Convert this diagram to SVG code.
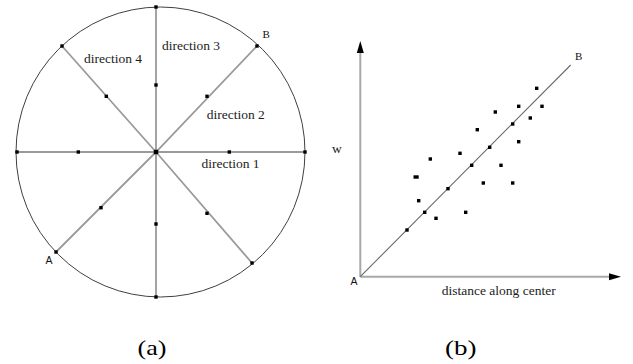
<svg xmlns="http://www.w3.org/2000/svg" width="633" height="364" viewBox="0 0 633 364">
<style>
.spoke{stroke:#9a9a9a;stroke-width:1.8;fill:none}
.rim{stroke:#404040;stroke-width:1;fill:none}
.axis{stroke:#a8a8a8;stroke-width:2;fill:none}
.diag{stroke:#6a6a6a;stroke-width:1.1;fill:none}
.dot{fill:#000}
.lbl{font-family:"Liberation Serif","Times New Roman",serif;font-size:13.5px;fill:#222}
.pt{font-family:"Liberation Serif",serif;font-size:11px;fill:#111}
.pta{font-family:"Liberation Sans",Arial,sans-serif;font-size:10.5px;fill:#111}
.cap{font-family:"Liberation Serif","Times New Roman",serif;font-size:21px;fill:#000}
</style>
<defs>
<rect id="d" x="-1.7" y="-1.7" width="3.4" height="3.4" class="dot"/>
</defs>
<rect width="633" height="364" fill="#fff"/>

<g id="panel-a">
<g id="connectors-a">
<ellipse class="rim" cx="160.5" cy="152" rx="144.5" ry="145"/>
<line class="spoke" x1="156" y1="7" x2="156" y2="297"/>
<line class="spoke" x1="17" y1="152" x2="305" y2="152"/>
<polyline class="spoke" points="56,252 156,152 257,46"/>
<polyline class="spoke" points="62,46 156,152 252,263"/>
</g>
<g id="dots-a">
<use href="#d" x="156" y="7"/>
<use href="#d" x="156" y="297"/>
<use href="#d" x="17" y="152"/>
<use href="#d" x="305" y="152"/>
<use href="#d" x="257" y="46"/>
<use href="#d" x="62" y="46"/>
<use href="#d" x="56" y="252"/>
<use href="#d" x="252" y="263"/>
<use href="#d" x="156" y="85"/>
<use href="#d" x="156" y="224"/>
<use href="#d" x="78.3" y="152"/>
<use href="#d" x="229.3" y="152"/>
<use href="#d" x="207" y="96.3"/>
<use href="#d" x="106.3" y="96.3"/>
<use href="#d" x="101" y="207.7"/>
<use href="#d" x="207" y="213.3"/>
<rect x="153.8" y="149.8" width="4.4" height="4.4" class="dot"/>
</g>
<g id="labels-a">
<text class="lbl" x="162" y="50">direction 3</text>
<text class="lbl" x="84" y="63">direction 4</text>
<text class="lbl" x="206.7" y="118.5">direction 2</text>
<text class="lbl" x="201.5" y="168">direction 1</text>
<text class="pt" x="262.5" y="38">B</text>
<text class="pta" x="45.5" y="263.5">A</text>
</g>
</g>

<g id="panel-b">
<g id="connectors-b">
<line class="axis" x1="360.3" y1="277" x2="360.3" y2="52"/>
<path d="M356.8,53 L360.3,41 L363.8,53 Z" fill="#000"/>
<line class="axis" x1="360.3" y1="276.7" x2="610" y2="276.7"/>
<path d="M609,273.2 L621,276.7 L609,280.2 Z" fill="#000"/>
<line class="diag" x1="360.3" y1="276.7" x2="570.7" y2="65"/>
</g>
<g id="dots-b">
<use href="#d" x="536.7" y="88.3"/>
<use href="#d" x="518.7" y="106.3"/>
<use href="#d" x="542" y="106.3"/>
<use href="#d" x="495.3" y="112"/>
<use href="#d" x="530.3" y="118"/>
<use href="#d" x="512.7" y="124"/>
<use href="#d" x="477.3" y="129.7"/>
<use href="#d" x="518.7" y="141.7"/>
<use href="#d" x="489.7" y="147.3"/>
<use href="#d" x="460" y="153.3"/>
<use href="#d" x="430.3" y="159"/>
<use href="#d" x="471.7" y="165.3"/>
<use href="#d" x="501" y="165.3"/>
<rect x="413.5" y="175.3" width="5.2" height="3.4" class="dot"/>
<use href="#d" x="483.3" y="183"/>
<use href="#d" x="512.7" y="183"/>
<use href="#d" x="448" y="188.7"/>
<use href="#d" x="418.7" y="200.7"/>
<use href="#d" x="424.7" y="212.3"/>
<use href="#d" x="465.7" y="212.3"/>
<use href="#d" x="436" y="218.3"/>
<use href="#d" x="407" y="230"/>
</g>
<g id="labels-b">
<text class="pt" x="575" y="60">B</text>
<text class="pta" x="350.5" y="285">A</text>
<text class="lbl" x="332" y="152.7">w</text>
<text class="lbl" x="441.7" y="295" font-size="14">distance along center</text>
</g>
</g>

<g id="captions">
<text class="cap" x="137.5" y="355" textLength="29" lengthAdjust="spacingAndGlyphs">(a)</text>
<text class="cap" x="445" y="355" textLength="31.5" lengthAdjust="spacingAndGlyphs">(b)</text>
</g>
</svg>
